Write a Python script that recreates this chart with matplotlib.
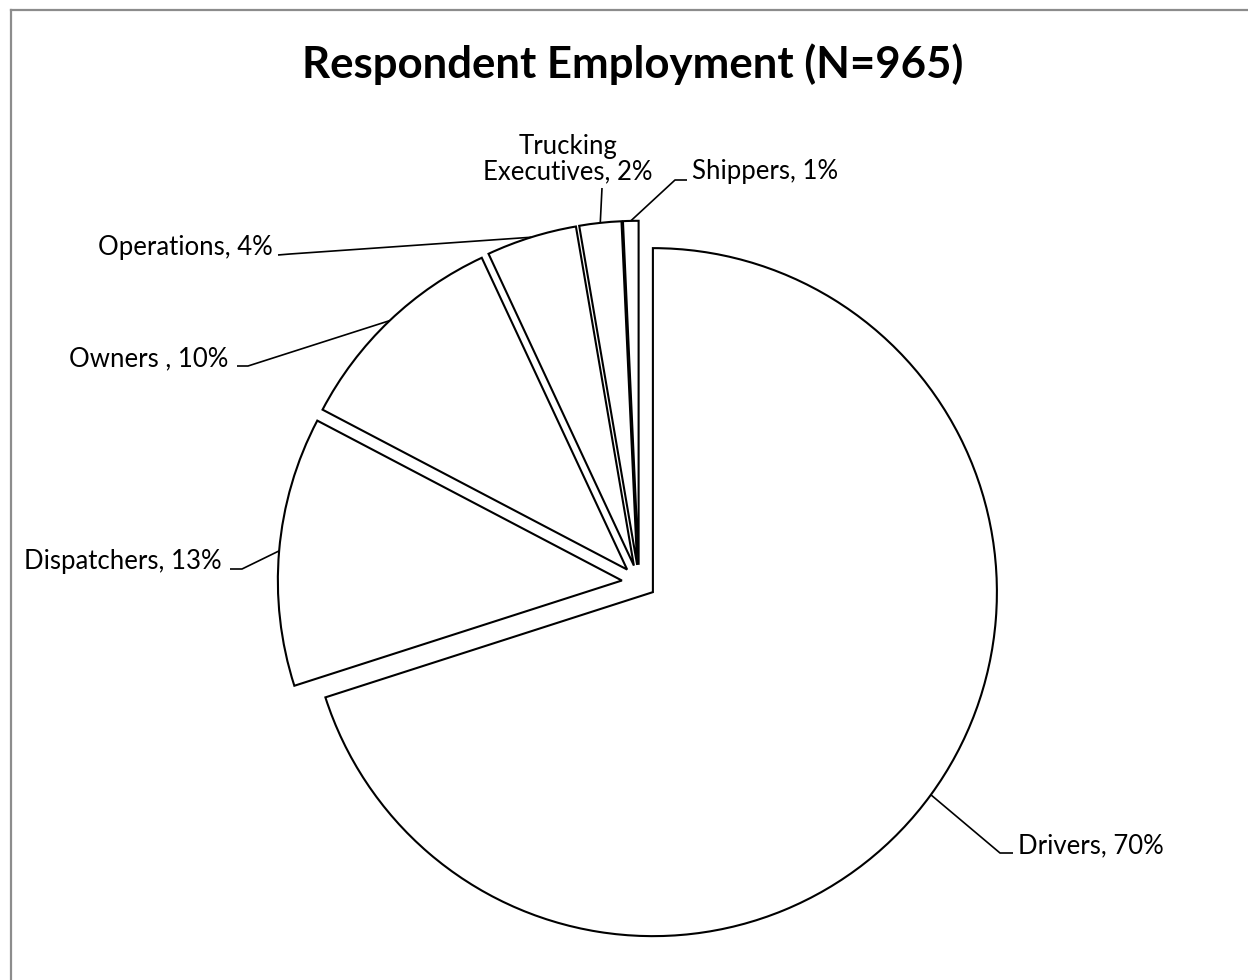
import numpy as np
import matplotlib.pyplot as plt
from matplotlib.lines import Line2D

plt.rcParams['font.family'] = ['Lato', 'DejaVu Sans']

# Data (N=965)
categories = ['Drivers', 'Dispatchers', 'Owners ', 'Operations', 'Trucking\nExecutives', 'Shippers']
counts = [676, 122, 100, 41, 19, 7]
title = 'Respondent Employment (N=965)'

W, H = 1248, 980
cx, cy, rad = 639, 582, 344   # pie centre and radius in pixels


def px(x, y):
    # pixel position -> data coords (pie radius = 1)
    return (x - cx) / rad, (cy - y) / rad


fig = plt.figure(figsize=(W / 100, H / 100), dpi=100)
ax = fig.add_axes([0, 0, 1, 1])

wedges, _ = ax.pie(counts, startangle=90, counterclock=False,
                   explode=[0.05] * len(counts), radius=1,
                   wedgeprops=dict(facecolor='white', edgecolor='black', linewidth=1.5))
ax.set_xlim(-cx / rad, (W - cx) / rad)
ax.set_ylim(-(H - cy) / rad, cy / rad)
ax.set_aspect('auto')
ax.axis('off')

total = sum(counts)
pct = [f'{round(100 * c / total)}%' for c in counts]

# label layout: (text x, text baseline y, ha, elbow px, end px)
layout = [
    ((1018, 853), 'left', (1000, 853), (1013, 853)),
    ((222, 569), 'right', (242, 569), (230, 569)),
    ((228, 366), 'right', (248, 366), (237, 366)),
    ((273, 255), 'right', (290, 254), (278, 255)),
    ((568, 179), 'center', (602, 188), (602, 188)),
    ((692, 179), 'left', (675, 180), (687, 180)),
]

for w, cat, p, (tpos, ha, elbow, end) in zip(wedges, categories, pct, layout):
    mid = np.deg2rad((w.theta1 + w.theta2) / 2)
    ax0 = w.center[0] + w.r * np.cos(mid)
    ay0 = w.center[1] + w.r * np.sin(mid)
    ex, ey = px(*elbow)
    nx, ny = px(*end)
    ax.plot([ax0, ex, nx], [ay0, ey, ny], color='black', lw=1.2, solid_capstyle='butt')
    tx, ty = px(*tpos)
    ax.text(tx, ty, f'{cat}, {p}', ha=ha, va='baseline', fontsize=18.5,
            multialignment='center', linespacing=1.0)

fig.text(633 / W, 1 - 64 / H, title, ha='center', va='center',
         fontsize=31.5, fontweight='bold')

# chart area border (only top/left visible)
grey = '#8c8c8c'
fig.add_artist(Line2D([10.5 / W, 1.0], [1 - 10.5 / H, 1 - 10.5 / H], color=grey, lw=1.6))
fig.add_artist(Line2D([10.5 / W, 10.5 / W], [0.0, 1 - 10.5 / H], color=grey, lw=1.6))

fig.savefig('out.png', dpi=100)
